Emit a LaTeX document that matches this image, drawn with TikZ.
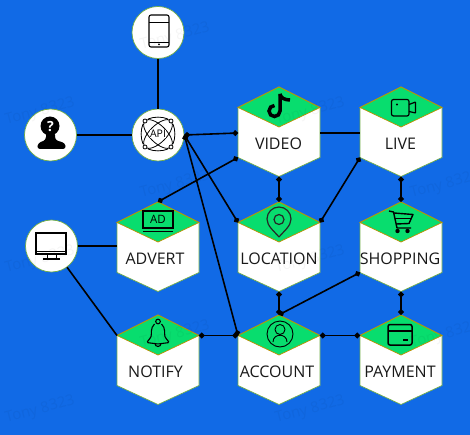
\documentclass[tikz,border=0pt]{standalone}
\usepackage{fontspec}
\setmainfont{Open Sans}
\usetikzlibrary{arrows.meta}

\definecolor{fond}{HTML}{116AE6}
\definecolor{vert}{HTML}{08DD6E}
\definecolor{bordvert}{HTML}{70AD47}
\definecolor{bordor}{HTML}{BF9000}

% hexagon: name, x, y, text, shift of the text
\newcommand{\hexbox}[5]{
	\begin{scope}[shift={(#2,#3)}]
		\draw[hexbody] (0,-45) -- (41,-24.5) -- (41,25.5) -- (0,44.5) -- (-41,25.5) -- (-41,-24.5) -- cycle;
		\draw[hexhead] (0,-45) -- (41,-24.5) -- (0,-5) -- (-41,-24.5) -- cycle;
		\node[hexframe] (#1) at (0,-0.25) {};
		\node[hexlabel] (#1text) at (#5,11.5) {#4};
		\coordinate (#1ul) at (-41,-24.5);
		\coordinate (#1ur) at (41,-24.5);
		\coordinate (#1ll) at (-41,25.5);
		\coordinate (#1ml) at (-41,1);
		\coordinate (#1mr) at (41,1);
	\end{scope}
}

\tikzset{
	phoneicon/.pic={
		\draw[line width=1.1pt,rounded corners=2pt] (-10,-16) rectangle (10,16);
		\draw[line width=0.8pt] (-10,-9) -- (10,-9) (-10,11) -- (10,11);
		\fill (0,13.5) circle (1);
	},
	personicon/.pic={
		\fill (-1,-9) circle (9.5);
		\fill[rounded corners=3pt] (-5,-3) -- (-5,5) -- (-13,8) -- (-14,14) -- (15,14) -- (14,8) -- (4,5) -- (4,-3) -- cycle;
		\node[text=white,font=\fontsize{14}{14}\selectfont\bfseries,inner sep=0pt] (personq) at (-0.5,-8.5) {?};
	},
	apiicon/.pic={
		\draw[line width=0.8pt,rotate=45] (0,0) ellipse (18.5 and 8.5);
		\draw[line width=0.8pt,rotate=-45] (0,0) ellipse (18.5 and 8.5);
		\foreach \sx/\sy in {-13/-13,13/-13,-13/13,13/13}
			\draw[line width=0.8pt,fill=white] (\sx,\sy) circle (2);
		\draw[line width=0.8pt] (-10,-15) .. controls (-4,-17.5) and (4,-17.5) .. (10,-15)
			(-10,15) .. controls (-4,17.5) and (4,17.5) .. (10,15)
			(-15,-10) .. controls (-17.5,-4) and (-17.5,4) .. (-15,10)
			(15,-10) .. controls (17.5,-4) and (17.5,4) .. (15,10);
		\node[fill=white,inner sep=0.5pt,font=\fontsize{10.5}{11}\selectfont] (apitext) at (0,0) {API};
	},
	monitoricon/.pic={
		\draw[line width=1.5pt] (-15,-13) rectangle (15,8);
		\draw[line width=0.8pt] (-15,5) -- (15,5);
		\draw[line width=0.9pt] (-4,8) -- (-4,13) (5,8) -- (5,13);
		\draw[line width=1.4pt] (-8,13) -- (9,13);
	},
	adicon/.pic={
		\draw[line width=1.1pt] (-15,-9) rectangle (15,8);
		\draw[line width=1.1pt] (-15,11.5) -- (15,11.5);
		\node[inner sep=0pt,font=\fontsize{11.5}{12}\selectfont] (adtext) at (0,-0.5) {AD};
	},
	bellicon/.pic={
		\draw[line width=1.1pt] (0,-11.5) circle (2.3);
		\draw[line width=1.1pt,rounded corners=1.5pt] (-3.5,-9) .. controls (-8,-5) and (-6,1) .. (-7.5,5) -- (-11.5,9.5) -- (0,11) -- (11.5,9.5) -- (7.5,5) .. controls (6,1) and (8,-5) .. (3.5,-9);
		\draw[line width=1.1pt] (-3,10.5) arc (180:0:3);
	},
	noteicon/.pic={
		\draw[line width=3.5pt] (1,-13) -- (1,4) arc (0:270:5.5);
		\draw[line width=3.5pt] (1,-13) .. controls (1.5,-9) and (6,-7) .. (11,-7);
	},
	cameraicon/.pic={
		\draw[line width=1.2pt,rounded corners=2pt] (-9.5,-8) rectangle (8,8.5);
		\fill (-4,-3) circle (1.2);
		\draw[line width=1.2pt,rounded corners=0.5pt] (8,-3) -- (14.5,-5.5) -- (14.5,5.5) -- (8,4);
	},
	pinicon/.pic={
		\draw[line width=1.2pt,draw=black!85] (0,14) .. controls (-5,8) and (-12,3) .. (-12,-4) arc (180:360:12) .. controls (12,3) and (5,8) .. (0,14);
		\draw[line width=1.2pt,draw=black!85] (0,-3.5) circle (5);
	},
	carticon/.pic={
		\draw[line width=1.4pt,line join=round] (-12,-11) -- (-7.5,-10) -- (-4,6) -- (10,6);
		\draw[line width=1.4pt,line join=round] (-7,-9) -- (12,-7.5) -- (8,1.5) -- (-5,2);
		\draw[line width=1pt] (-6,-3) -- (10,-3);
		\fill (-3.5,9) circle (2.2) (6.5,9) circle (2.2);
	},
	usericon/.pic={
		\draw[line width=0.9pt] (0,0) circle (13);
		\draw[line width=0.9pt] (0,-4.5) circle (5);
		\draw[line width=0.9pt] (-7,8) .. controls (-7,-1) and (7,-1) .. (7,8);
	},
	cardicon/.pic={
		\draw[line width=1.5pt,rounded corners=2pt] (-12,-10) rectangle (12,10.5);
		\draw[line width=1.1pt] (-12,-3.5) -- (12,-3.5);
		\draw[line width=1.3pt] (3,5.5) -- (8,5.5);
	}
}

\begin{document}
\begin{tikzpicture}[x=1pt,y=-1pt]
	\tikzstyle{hexbody}=[fill=white,draw=bordvert,line width=0.7pt]
	\tikzstyle{hexhead}=[fill=vert,draw=bordor,line width=0.7pt]
	\tikzstyle{hexframe}=[rectangle,inner sep=0pt,minimum width=82pt,minimum height=89.5pt]
	\tikzstyle{hexlabel}=[inner sep=0pt,text=black!90,font=\fontsize{16}{18}\selectfont]
	\tikzstyle{rond}=[circle,fill=white,draw=bordvert,line width=0.7pt,inner sep=0pt,minimum size=52pt]
	\tikzstyle{lien}=[line width=1.6pt]
	\tikzstyle{suite}=[<->,>={Circle[length=5.5pt,width=5.5pt]},line width=1.6pt]
	\tikzstyle{tatouage}=[rotate=15,opacity=0.04,font=\fontsize{15}{15}\selectfont]

	\fill[fond] (0,0) rectangle (470,435);
	\useasboundingbox (0,0) rectangle (470,435);

	\node[rond] (phone) at (158,32.5) {};
	\node[rond] (person) at (50.5,135) {};
	\node[rond] (api) at (158,135) {};
	\node[rond] (monitor) at (51.5,246) {};

	\hexbox{video}{279}{132}{VIDEO}{-0.5}
	\hexbox{live}{401}{132}{LIVE}{-0.5}
	\hexbox{advert}{158}{247}{ADVERT}{-3}
	\hexbox{location}{279}{247}{LOCATION}{0}
	\hexbox{shopping}{401}{247}{SHOPPING}{-1}
	\hexbox{notify}{158}{360}{NOTIFY}{-2.5}
	\hexbox{account}{279}{360}{ACCOUNT}{-2}
	\hexbox{payment}{401}{360}{PAYMENT}{-1}

	\pic at (159,31) {phoneicon};
	\pic at (51,135) {personicon};
	\pic at (158,134) {apiicon};
	\pic at (51,246) {monitoricon};
	\pic at (158,220) {adicon};
	\pic at (158,333) {bellicon};
	\pic at (279,107) {noteicon};
	\pic at (401,107.5) {cameraicon};
	\pic at (279,223) {pinicon};
	\pic at (401,222) {carticon};
	\pic at (280,334) {usericon};
	\pic at (400,334.5) {cardicon};

	\draw[lien] (phone) -- (api);
	\draw[lien] (person) -- (api);
	\draw[lien] (videomr) -- (liveml);
	\draw[lien] (monitor) -- (advert.west |- monitor);
	\draw[lien] (monitor) -- (notifyul);

	\draw[suite] (api.east) -- (videoml);
	\draw[suite] (api.east) -- (locationul);
	\draw[suite] (api.east) -- (accountul);
	\draw[suite] (advert.north) -- (videoll);
	\draw[suite] (video.south) -- (location.north);
	\draw[suite] (locationur) -- (livell);
	\draw[suite] (live.south) -- (shopping.north);
	\draw[suite] (location.south) -- (account.north);
	\draw[suite] (account.north) -- (shoppingll);
	\draw[suite] (shopping.south) -- (payment.north);
	\draw[suite] (notifyur) -- (accountul);
	\draw[suite] (accountur) -- (paymentul);

	\foreach \wx/\wy [count=\wi] in {175/37,40/112,310/112,175/185,445/185,40/260,310/260,175/335,445/335,40/410,310/410}
		\node[tatouage] (marque\wi) at (\wx,\wy) {Tony 8323};
\end{tikzpicture}
\end{document}
